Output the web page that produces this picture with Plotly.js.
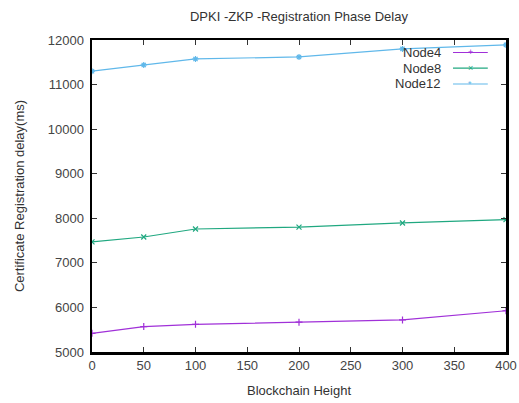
<!DOCTYPE html>
<html>
<head>
<meta charset="utf-8">
<script src="https://cdn.plot.ly/plotly-3.0.1.min.js"></script>
<style>html,body{margin:0;padding:0;background:#fff;}#chart{width:519px;height:403px;}</style>
</head>
<body>
<div id="chart"></div>
<script>
var heights = [0, 50, 100, 200, 300, 400];
var node4 = [5420, 5570, 5620, 5670, 5720, 5925];
var node8 = [7470, 7580, 7760, 7800, 7895, 7970];
var node12 = [11300, 11440, 11575, 11620, 11800, 11890];
var seriesNames = ['Node4', 'Node8', 'Node12'];
var seriesColors = ['#a030d8', '#20a880', '#60b8ea'];
var seriesSymbols = ['cross-thin-open', 'x-thin-open', 'asterisk-open'];
var seriesGlyphs = ['+', '×', '*'];
var seriesData = [node4, node8, node12];
var xTicks = [0, 50, 100, 150, 200, 250, 300, 350, 400];
var yTicks = [5000, 6000, 7000, 8000, 9000, 10000, 11000, 12000];

var traces = seriesData.map(function (ys, i) {
  return {
    x: heights, y: ys, name: seriesNames[i], type: 'scatter', mode: 'lines+markers',
    line: {color: seriesColors[i], width: 1.2},
    marker: {symbol: seriesSymbols[i], size: 5, color: seriesColors[i], line: {color: seriesColors[i], width: 1.2}},
    showlegend: false
  };
});

var fontFam = 'Liberation Sans, Arial, sans-serif';
var annotations = [];
var shapes = [];
var legendY = [0.96, 0.91, 0.859];
seriesNames.forEach(function (n, i) {
  annotations.push({xref: 'paper', yref: 'paper', x: 0.848, y: legendY[i], xanchor: 'right', yanchor: 'middle',
    text: n, showarrow: false, font: {family: fontFam, size: 13, color: '#333'}});
  shapes.push({type: 'line', xref: 'paper', yref: 'paper', x0: 0.872, x1: 0.956, y0: legendY[i], y1: legendY[i],
    line: {color: seriesColors[i], width: 1.2}});
  annotations.push({xref: 'paper', yref: 'paper', x: 0.914, y: legendY[i], xanchor: 'center', yanchor: 'middle',
    text: seriesGlyphs[i], showarrow: false, font: {family: fontFam, size: 9, color: seriesColors[i]}});
});

var layout = {
  width: 519, height: 403,
  margin: {l: 92, r: 13, t: 40, b: 51},
  paper_bgcolor: '#fff', plot_bgcolor: '#fff',
  font: {family: fontFam, size: 13, color: '#333'},
  title: {text: 'DPKI -ZKP -Registration Phase Delay', x: 0.576, xanchor: 'center', y: 0.96, yanchor: 'middle',
    font: {family: fontFam, size: 13, color: '#333'}},
  xaxis: {
    range: [0, 400], tickvals: xTicks, ticktext: xTicks.map(String),
    ticks: 'inside', ticklen: 5, tickcolor: '#333', tickwidth: 1,
    showline: true, linecolor: '#000', linewidth: 2.5, mirror: 'ticks',
    showgrid: false, zeroline: false,
    tickfont: {family: fontFam, size: 13, color: '#444'},
    title: {text: 'Blockchain Height', font: {family: fontFam, size: 13, color: '#333'}, standoff: 14}
  },
  yaxis: {
    range: [5000, 12000], tickvals: yTicks, ticktext: yTicks.map(String),
    ticks: 'inside', ticklen: 5, tickcolor: '#333', tickwidth: 1,
    showline: true, linecolor: '#000', linewidth: 2.5, mirror: 'ticks',
    showgrid: false, zeroline: false, ticklabelstandoff: 3,
    tickfont: {family: fontFam, size: 13, color: '#444'},
    title: {text: 'Certificate Registration delay(ms)', font: {family: fontFam, size: 13, color: '#333'}, standoff: 20}
  },
  annotations: annotations,
  shapes: shapes
};

Plotly.newPlot('chart', traces, layout, {displayModeBar: false, staticPlot: true});
</script>
</body>
</html>
